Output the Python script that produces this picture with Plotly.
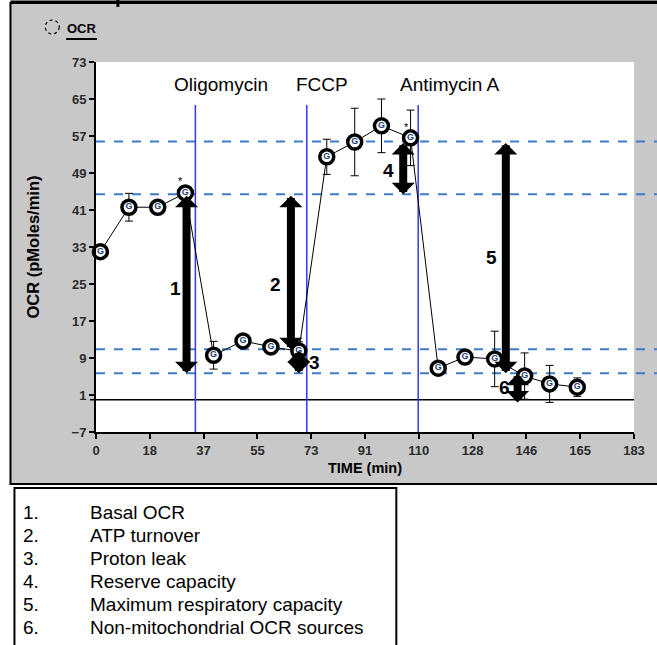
import plotly.graph_objects as go

# ---------------- data ----------------
time_min = [1.5, 11.2, 21.0, 30.4, 40.0, 50.0, 59.5, 69.0, 78.5, 88.0, 97.1, 107.0,
            116.4, 125.5, 135.6, 145.8, 154.3, 163.7]
ocr = [32.0, 41.6, 41.6, 44.7, 9.6, 12.7, 11.4, 10.5, 52.5, 55.7, 59.2, 56.6,
       6.8, 9.2, 8.8, 5.1, 3.4, 2.7]
ocr_err = [1.0, 3.0, 1.5, 1.0, 3.0, 1.0, 1.0, 2.0, 3.8, 7.3, 5.8, 6.0,
           1.0, 1.0, 6.0, 5.0, 4.0, 2.0]

injection_names = ["Oligomycin", "FCCP", "Antimycin A"]
injection_times = [33.8, 71.7, 109.6]
injection_label_x = [42.6, 76.8, 120.4]
injection_top = 63.7
injection_label_y = 68.2

levels = [55.8, 44.4, 10.9, 5.7]  # dashed reference levels

arrow_ids = ["1", "2", "3", "4", "5", "6"]
arrow_x = [30.8, 66.3, 69.0, 104.5, 139.4, 143.4]
arrow_top = [44.4, 44.4, 10.9, 55.8, 55.8, 5.9]
arrow_bottom = [5.7, 10.9, 5.7, 44.4, 5.7, -0.6]
arrow_label_x = [27.1, 61.2, 74.4, 99.5, 134.6, 139.0]
arrow_label_y = [24.1, 25.0, 8.1, 49.6, 30.8, 2.7]

star_x = [28.6, 105.6]
star_y = [47.2, 59.0]

x_tickvals = [0, 18.3, 36.6, 54.9, 73.2, 91.5, 109.8, 128.1, 146.4, 164.7, 183]
x_ticktext = ["0", "18", "37", "55", "73", "91", "110", "128", "146", "165", "183"]
y_tickvals = [-7, 1, 9, 17, 25, 33, 41, 49, 57, 65, 73]

legend_nums = ["1.", "2.", "3.", "4.", "5.", "6."]
legend_items = ["Basal OCR", "ATP turnover", "Proton leak", "Reserve capacity",
                "Maximum respiratory capacity", "Non-mitochondrial OCR sources"]

# ---------------- figure ----------------
W, H = 657, 645
ML, MR, MT, MB = 96, 20, 62, 213
PW, PH = W - ML - MR, H - MT - MB


def px_x(p):
    return (p - ML) / PW


def px_y(p):
    return (H - MB - p) / PH


FONT = "Liberation Sans, Arial, sans-serif"

fig = go.Figure()
fig.add_trace(go.Scatter(
    x=time_min, y=ocr, mode="lines+markers+text",
    text=["G"] * len(ocr), textposition="middle center",
    textfont=dict(family=FONT, size=9, color="#1c3f7a", weight="bold"),
    line=dict(color="black", width=1),
    marker=dict(symbol="circle", size=14, color="white",
                line=dict(color="black", width=3.5)),
    error_y=dict(type="data", array=ocr_err, visible=True,
                 color="black", thickness=1, width=4),
    showlegend=False, cliponaxis=False,
))

shapes = []
# gray panel
shapes.append(dict(type="rect", xref="paper", yref="paper",
                   x0=px_x(10), x1=px_x(675), y0=px_y(484), y1=px_y(3),
                   fillcolor="#c8c8c8", line=dict(color="black", width=2),
                   layer="below"))
shapes.append(dict(type="line", xref="paper", yref="paper",
                   x0=px_x(10), x1=px_x(675), y0=px_y(2), y1=px_y(2),
                   line=dict(color="black", width=3), layer="below"))
shapes.append(dict(type="line", xref="paper", yref="paper",
                   x0=px_x(118), x1=px_x(118), y0=px_y(7), y1=px_y(0),
                   line=dict(color="black", width=3), layer="below"))
# white plot area
shapes.append(dict(type="rect", xref="paper", yref="paper",
                   x0=0, x1=1, y0=0, y1=1, fillcolor="white",
                   line=dict(width=0), layer="below"))
# dashed levels
for lv in levels:
    shapes.append(dict(type="line", xref="paper", yref="y",
                       x0=0, x1=px_x(660), y0=lv, y1=lv,
                       line=dict(color="#3d7cc9", width=2, dash="dash"),
                       layer="below"))
# zero line
shapes.append(dict(type="line", xref="paper", yref="y",
                   x0=px_x(90), x1=1, y0=0, y1=0,
                   line=dict(color="black", width=1.5), layer="below"))
# injection lines
for t in injection_times:
    shapes.append(dict(type="line", xref="x", yref="y",
                       x0=t, x1=t, y0=-7, y1=injection_top,
                       line=dict(color="#3535ff", width=1.5), layer="below"))
# top-left OCR legend
shapes.append(dict(type="circle", xref="paper", yref="paper",
                   x0=px_x(45), x1=px_x(59), y0=px_y(34), y1=px_y(20),
                   line=dict(color="black", width=1.2, dash="dot")))
shapes.append(dict(type="line", xref="paper", yref="paper",
                   x0=px_x(66), x1=px_x(97), y0=px_y(39), y1=px_y(39),
                   line=dict(color="black", width=2)))
# bottom legend box
shapes.append(dict(type="rect", xref="paper", yref="paper",
                   x0=px_x(14), x1=px_x(398), y0=px_y(660), y1=px_y(488),
                   fillcolor="white", line=dict(color="black", width=2)))

annotations = []
for name, lx in zip(injection_names, injection_label_x):
    annotations.append(dict(x=lx, y=injection_label_y, xref="x", yref="y",
                            text=name, showarrow=False,
                            font=dict(family=FONT, size=19, color="black")))
for i in range(len(arrow_ids)):
    annotations.append(dict(x=arrow_x[i], y=arrow_bottom[i], ax=arrow_x[i], ay=arrow_top[i],
                            xref="x", yref="y", axref="x", ayref="y",
                            text="", showarrow=True, arrowside="end+start",
                            arrowhead=1, startarrowhead=1,
                            arrowsize=0.48, startarrowsize=0.48,
                            arrowwidth=8, arrowcolor="black",
                            standoff=0, startstandoff=0))
    annotations.append(dict(x=arrow_label_x[i], y=arrow_label_y[i], xref="x", yref="y",
                            text="<b>%s</b>" % arrow_ids[i], showarrow=False,
                            font=dict(family=FONT, size=19, color="black")))
for sx, sy in zip(star_x, star_y):
    annotations.append(dict(x=sx, y=sy, xref="x", yref="y", text="*", showarrow=False,
                            font=dict(family=FONT, size=11, color="black")))
annotations.append(dict(x=px_x(82), y=px_y(28), xref="paper", yref="paper",
                        text="<b>OCR</b>", showarrow=False,
                        xanchor="center", yanchor="middle",
                        font=dict(family=FONT, size=13, color="black")))
legend_y = [512, 535, 558, 581, 604, 627]
for num, item, ly in zip(legend_nums, legend_items, legend_y):
    annotations.append(dict(x=px_x(21), y=px_y(ly), xref="paper", yref="paper",
                            text=num, showarrow=False, xanchor="left", yanchor="middle",
                            font=dict(family=FONT, size=19, color="black")))
    annotations.append(dict(x=px_x(88), y=px_y(ly), xref="paper", yref="paper",
                            text=item, showarrow=False, xanchor="left", yanchor="middle",
                            font=dict(family=FONT, size=19, color="black")))

fig.update_layout(
    width=W, height=H,
    margin=dict(l=ML, r=MR, t=MT, b=MB, pad=0),
    paper_bgcolor="white", plot_bgcolor="white",
    shapes=shapes, annotations=annotations,
    xaxis=dict(range=[0, 183], tickvals=x_tickvals, ticktext=x_ticktext,
               showgrid=False, zeroline=False, showline=True,
               linecolor="black", linewidth=2, ticks="outside", ticklen=5,
               tickwidth=1.5, tickcolor="black",
               tickfont=dict(family=FONT, size=13, color="#2b2b2b", weight="bold"),
               title=dict(text="<b>TIME (min)</b>", standoff=6,
                          font=dict(family=FONT, size=14.5, color="black"))),
    yaxis=dict(range=[-7, 73], tickvals=y_tickvals,
               showgrid=False, zeroline=False, showline=True,
               linecolor="black", linewidth=2, ticks="outside", ticklen=5,
               tickwidth=1.5, tickcolor="black",
               tickfont=dict(family=FONT, size=13, color="#2b2b2b", weight="bold"),
               title=dict(text="<b>OCR (pMoles/min)</b>", standoff=28,
                          font=dict(family=FONT, size=16.5, color="black"))),
)

fig.write_html("out.html", config={"displayModeBar": False},
               post_script="document.body.style.margin='0px';document.body.style.padding='0px';")
